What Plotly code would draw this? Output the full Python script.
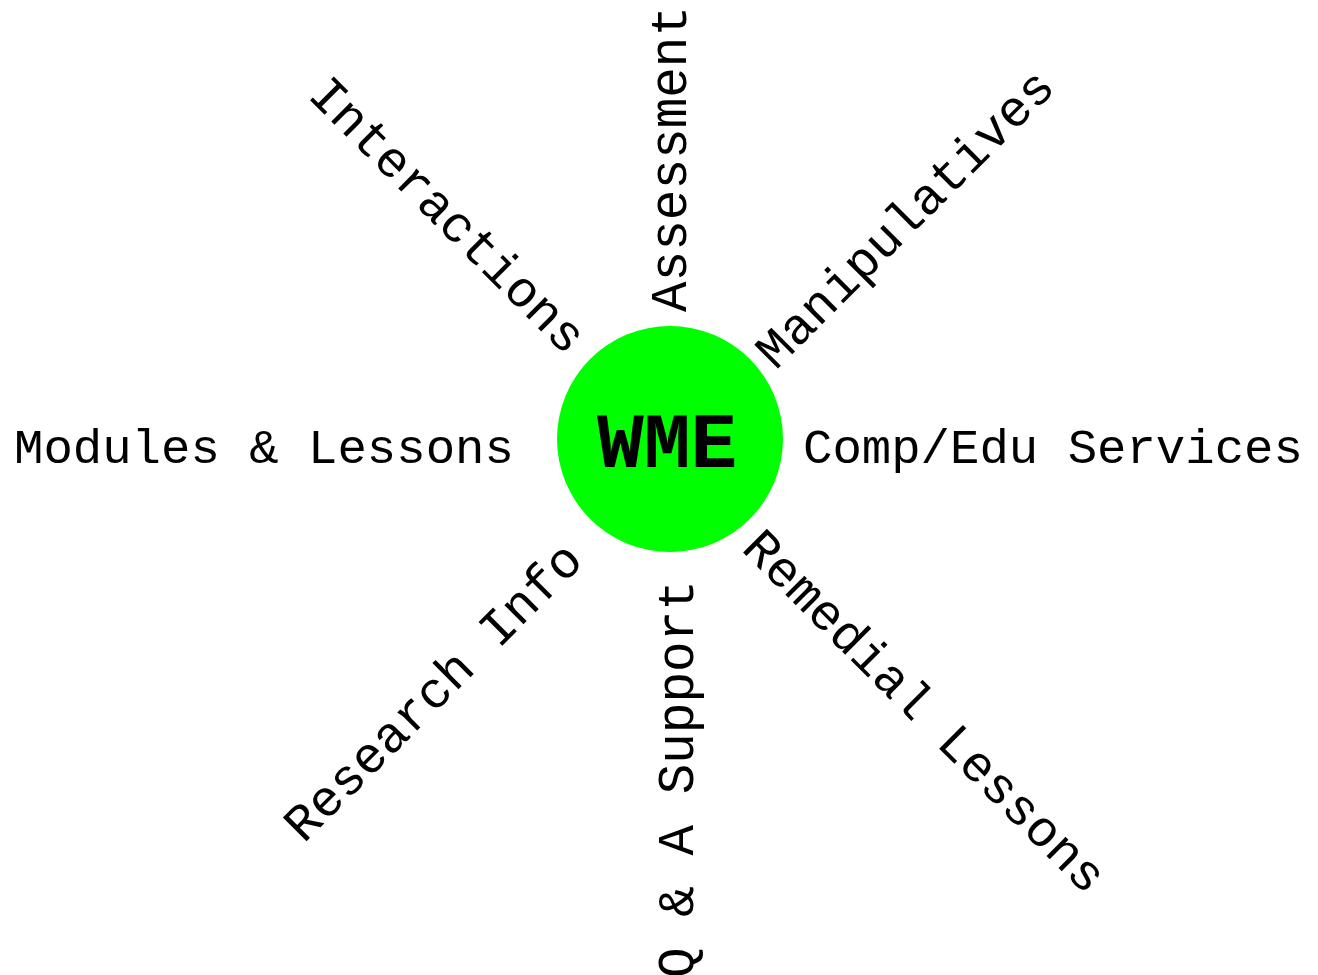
import math
import plotly.graph_objects as go

# ---- data ----
center_label = "WME"
labels = ["Comp/Edu Services", "Manipulatives", "Assessment", "Interactions",
          "Modules & Lessons", "Research Info", "Q & A Support", "Remedial Lessons"]
spoke_deg = [0, 45, 90, 135, 180, 225, 270, 315]

# ---- layout / style ----
W, H = 1318, 975
cx, cy, r = 670, 439, 113
text_angle = [0, -45, -90, 45, 0, -45, -90, 45]
radial = [383, 322, 280, 316, 406, 346, 340, 373]
perp = [11, 13, 2, 2, 11, 14, 9, 15]
font_size = [49, 51, 51, 51, 49, 51, 51, 51]
FONT = "Courier New, Courier, Liberation Mono, monospace"

fig = go.Figure()
fig.add_shape(type="circle", xref="x", yref="y",
              x0=cx - r, x1=cx + r, y0=cy - r, y1=cy + r,
              fillcolor="#00FF00", line=dict(width=0), layer="below")

annotations = []
for lab, sd, ta, d, s, fs in zip(labels, spoke_deg, text_angle, radial, perp, font_size):
    a = math.radians(sd)
    t = math.radians(ta)
    x = cx + d * math.cos(a) + s * (-math.sin(t))
    y = cy - d * math.sin(a) + s * math.cos(t)
    annotations.append(dict(x=x, y=y, xref="x", yref="y", text=lab,
                            showarrow=False, textangle=ta,
                            xanchor="center", yanchor="middle",
                            font=dict(family=FONT, size=fs, color="black")))
annotations.append(dict(x=cx, y=cy, xref="x", yref="y", text="<b>%s</b>" % center_label,
                        showarrow=False, xshift=-3, yshift=-7,
                        xanchor="center", yanchor="middle",
                        font=dict(family=FONT, size=78, color="black")))

fig.update_layout(
    width=W, height=H, margin=dict(l=0, r=0, t=0, b=0),
    paper_bgcolor="white", plot_bgcolor="white",
    xaxis=dict(range=[0, W], visible=False, fixedrange=True),
    yaxis=dict(range=[H, 0], visible=False, fixedrange=True),
    annotations=annotations, showlegend=False,
)
fig.write_html("out.html", config={"displayModeBar": False},
               post_script="document.body.style.margin='0';document.body.style.overflow='hidden';")
